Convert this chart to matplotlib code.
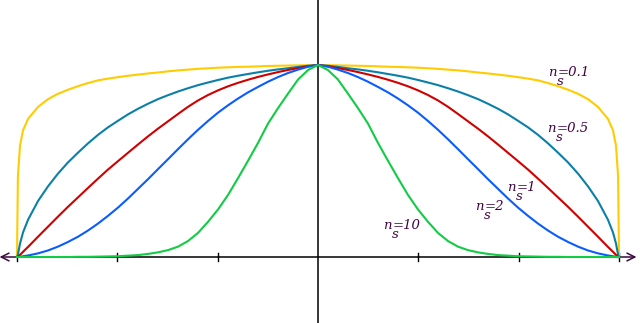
import numpy as np
from matplotlib import pyplot as plt
from matplotlib.transforms import offset_copy

r = [0, .033, .066, .100, .133, .166, .199, .233, .266, .299, .332, .365,
     .399, .432, .465, .498, .532, .565, .598, .631, .664, .698, .731, .764,
     .797, .831, .864, .897, .930, .963, .980, .990, .997, 1.0]

n01 = [1.0, .999, .998, .997, .996, .995, .993, .991, .990, .988, .986, .983,
       .980, .976, .972, .967, .961, .956, .950, .944, .937, .929, .920, .906,
       .890, .871, .850, .822, .782, .720, .660, .580, .420, 0.0]
n05 = [1.0, .996, .990, .983, .977, .970, .962, .953, .944, .934, .922, .909,
       .895, .879, .862, .843, .822, .798, .772, .743, .710, .675, .636, .592,
       .544, .492, .434, .368, .292, .195, .128, .070, .012, 0.0]
n1 = [1.0, .993, .984, .974, .963, .951, .938, .923, .907, .889, .868, .844,
      .815, .782, .745, .707, .668, .628, .586, .543, .500, .455, .408, .360,
      .311, .261, .210, .158, .106, .053, .027, .011, 0.0, 0.0]
n2 = [1.0, .991, .976, .958, .937, .913, .886, .857, .825, .790, .752, .709,
      .662, .613, .562, .510, .457, .405, .355, .305, .258, .214, .174, .138,
      .106, .078, .054, .034, .019, .008, .004, .001, 0.0, 0.0]
n10 = [1.0, .974, .925, .850, .775, .695, .595, .500, .410, .323, .248, .184,
       .125, .083, .054, .036, .024, .016, .010, .007, .004, .003, .002, .001,
       .001, 0, 0, 0, 0, 0, 0, 0, 0, 0]

curves = [('0.1', n01, '#ffcc00'), ('0.5', n05, '#0a80a8'), ('1', n1, '#d00000'),
          ('2', n2, '#0a5cff'), ('10', n10, '#11cc44')]
ticks = [-1, -2 / 3, -1 / 3, 1 / 3, 2 / 3, 1]

# label anchors (left, baseline)
label_pos = {'0.1': (0.764, 0.943), '0.5': (0.761, 0.651), '1': (0.628, 0.344),
             '2': (0.522, 0.245), '10': (0.216, 0.146)}

fig = plt.figure(figsize=(6.4, 3.23), dpi=100)
ax = fig.add_axes([0, 0, 1, 1])
ax.axis('off')
ax.set_xlim(-318 / 301, 322 / 301)
ax.set_ylim(-66 / 192, 257 / 192)

purple = '#3c0a3c'
# axes
ax.plot([0, 0], [-1, 2], color='black', lw=1.1, zorder=1)
ax.plot([-1, 1], [0, 0], color='black', lw=1.1, zorder=1)
for sgn in (-1, 1):
    ax.annotate('', xy=(sgn * 1.058, 0), xytext=(sgn * 1.0, 0),
                arrowprops=dict(arrowstyle='->', color=purple, lw=1.1,
                                mutation_scale=14, shrinkA=0, shrinkB=0))
for t in ticks:
    ax.plot([t, t], [-0.019, 0.019], color='black', lw=1.0, zorder=1)

rr = np.array(r)
x = np.concatenate([-rr[::-1], rr[1:]])
for name, vals, col in curves:
    v = np.array(vals)
    y = np.concatenate([v[::-1], v[1:]])
    ax.plot(x, y, color=col, lw=1.5, zorder=3, solid_joinstyle='round')

# label: "n", "=value" after it, and a full-size "s" dropped under the "="
lab = dict(color='#400040', fontsize=9.5, family='DejaVu Serif',
           fontstyle='italic', va='baseline', ha='left')
for name, (lx, ly) in label_pos.items():
    ax.text(lx, ly, 'n', **lab)
    ax.text(lx, ly, '=' + name, transform=offset_copy(ax.transData, fig, x=6.8, units='points'), **lab)
    ax.text(lx, ly, 's', transform=offset_copy(ax.transData, fig, x=6.6, y=-6.2, units='points'), **lab)

fig.savefig('out.png', dpi=100)
